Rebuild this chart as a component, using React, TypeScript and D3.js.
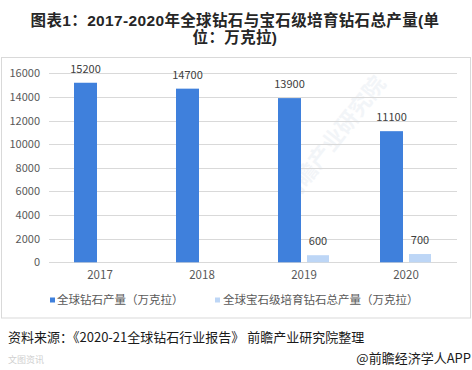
import React from "react";
import * as d3 from "d3";

const years = ["2017", "2018", "2019", "2020"];
const diamondTotal = [15200, 14700, 13900, 11100];
const labGrown: (number | null)[] = [null, null, 600, 700];
const yTicks = [0, 2000, 4000, 6000, 8000, 10000, 12000, 14000, 16000];
const seriesNames = ["全球钻石产量（万克拉）", "全球宝石级培育钻石总产量（万克拉）"];
const titleLines = ["图表1：2017-2020年全球钻石与宝石级培育钻石总产量(单", "位：万克拉)"];
const sourceText = "资料来源：《2020-21全球钻石行业报告》 前瞻产业研究院整理";
const brandText = "@前瞻经济学人APP";

const W = 472;
const H = 370;
const FONT = "'Noto Sans CJK SC', 'Noto Sans', sans-serif";
const TITLE_FONT = "'Liberation Sans', 'Noto Sans CJK SC', sans-serif";
const C_DARK = "#3f80dc";
const C_LIGHT = "#bdd6f6";
const GRID = "#d9d9d9";

export default function App() {
  const plotLeft = 49;
  const plotRight = 457;
  const y = d3.scaleLinear().domain([0, 16000]).range([262.3, 73.3]);
  const x0 = d3.scaleBand<string>().domain(years).range([plotLeft, plotRight]).paddingInner(0).paddingOuter(0);
  const barW = 23;
  const gap = 6;
  const x1 = (i: number, s: number) => {
    const c = (x0(years[i]) as number) + x0.bandwidth() / 2;
    return s === 0 ? c - gap / 2 - barW : c + gap / 2;
  };

  return (
    <svg width={W} height={H} style={{ position: "absolute", left: 0, top: 0, background: "#fff" }} fontFamily={FONT}>
      <rect x={0} y={0} width={W} height={H} fill="#fff" />
      {titleLines.map((t, i) => (
        <text key={i} x={235} y={26 + i * 17} textAnchor="middle" fontSize={15.5} fontWeight="bold" fill="#262626" fontFamily={TITLE_FONT} letterSpacing={0.35}>
          {t}
        </text>
      ))}
      <rect x={1.5} y={57.5} width={469} height={260.5} fill="none" stroke={GRID} strokeWidth={1} />
      {/* watermark */}
      <text
        x={0}
        y={0}
        transform="translate(292,205) rotate(-52)"
        fontSize={22}
        fontWeight="bold"
        fill="#c9d3e3"
        opacity={0.22}
      >
        前瞻产业研究院
      </text>
      {yTicks.map((t) => (
        <g key={t}>
          <line x1={plotLeft} x2={plotRight} y1={Math.round(y(t)) + 0.5} y2={Math.round(y(t)) + 0.5} stroke={GRID} strokeWidth={1} />
          <text x={40} y={y(t) + 4} textAnchor="end" fontSize={11} fill="#595959">
            {t}
          </text>
        </g>
      ))}
      {years.map((yr, i) => (
        <g key={yr}>
          <rect x={x1(i, 0)} y={y(diamondTotal[i])} width={barW} height={y(0) - y(diamondTotal[i])} fill={C_DARK} />
          <text x={x1(i, 0) + barW / 2} y={y(diamondTotal[i]) - 10} textAnchor="middle" fontSize={11} fill="#404040">
            {diamondTotal[i]}
          </text>
          {labGrown[i] != null && (
            <g>
              <rect x={x1(i, 1)} y={y(labGrown[i] as number)} width={barW - 1} height={y(0) - y(labGrown[i] as number)} fill={C_LIGHT} />
              <text x={x1(i, 1) + (barW - 1) / 2} y={y(labGrown[i] as number) - 10} textAnchor="middle" fontSize={11} fill="#404040">
                {labGrown[i]}
              </text>
            </g>
          )}
          <text x={(x0(yr) as number) + x0.bandwidth() / 2} y={279} textAnchor="middle" fontSize={11.5} fill="#595959">
            {yr}
          </text>
        </g>
      ))}
      {/* legend */}
      <rect x={50} y={297.5} width={5} height={5} fill={C_DARK} />
      <text x={57} y={304} fontSize={11.5} fill="#595959">{seriesNames[0]}</text>
      <rect x={215} y={297.5} width={5} height={5} fill={C_LIGHT} />
      <text x={223} y={304} fontSize={11.5} fill="#595959">{seriesNames[1]}</text>
      {/* source */}
      <text x={8} y={342} fontSize={13} fill="#1a1a1a">{sourceText}</text>
      <text x={8} y={363} fontSize={9} fill="#d0d0d0">文图资讯</text>
      <text x={471} y={363} textAnchor="end" fontSize={13} fill="#1a1a1a">{brandText}</text>
    </svg>
  );
}
